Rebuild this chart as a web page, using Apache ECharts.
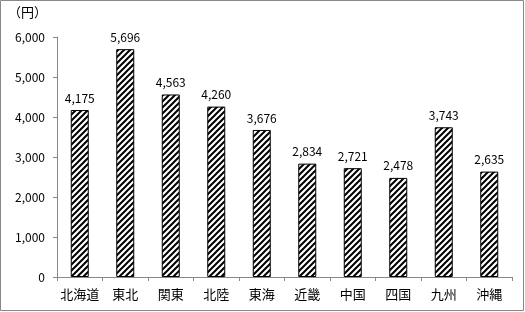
<!DOCTYPE html>
<html><head><meta charset="utf-8">
<script src="https://cdn.jsdelivr.net/npm/echarts@6/dist/echarts.min.js"></script>
<style>html,body{margin:0;padding:0;background:#fff}#c{width:525px;height:312px;}</style>
</head><body><div id="c"></div>
<script>
const categories = ['北海道','東北','関東','北陸','東海','近畿','中国','四国','九州','沖縄'];
const values = [4175,5696,4563,4260,3676,2834,2721,2478,3743,2635];
const unitLabel = '（円）';

function hatch(){
  const s = 6, c = document.createElement('canvas');
  c.width = s; c.height = s;
  const g = c.getContext('2d');
  g.fillStyle = '#fff'; g.fillRect(0,0,s,s);
  g.strokeStyle = '#000'; g.lineWidth = 2;
  g.beginPath();
  g.moveTo(-1, s+1); g.lineTo(s+1, -1);
  g.moveTo(-1, 1); g.lineTo(1, -1);
  g.moveTo(s-1, s+1); g.lineTo(s+1, s-1);
  g.stroke();
  return c;
}
const font = '"Noto Sans CJK JP", sans-serif';
const chart = echarts.init(document.getElementById('c'), null, {renderer:'canvas'});
chart.setOption({
  animation:false,
  backgroundColor:'#fff',
  graphic:[{type:'rect',shape:{x:0.5,y:0.5,width:523,height:310},style:{fill:'none',stroke:'#888',lineWidth:1}},
    {type:'text',left:8,top:6,style:{text:unitLabel,font:'13px '+font,fill:'#000'}}],
  grid:{left:57,right:13,top:37,bottom:35},
  xAxis:{type:'category',data:categories,
    axisLine:{lineStyle:{color:'#888'}},
    axisTick:{show:true,length:4,lineStyle:{color:'#888'}},
    axisLabel:{color:'#000',fontFamily:font,fontSize:13,margin:11,interval:0}},
  yAxis:{type:'value',min:0,max:6000,interval:1000,
    axisLine:{show:true,lineStyle:{color:'#888'}},
    axisTick:{show:true,length:4,lineStyle:{color:'#888'}},
    splitLine:{show:false},
    axisLabel:{color:'#000',fontFamily:font,fontSize:12,margin:12,
      formatter:v=>v.toLocaleString('en-US')}},
  series:[{type:'bar',data:values,barWidth:18,
    itemStyle:{color:{image:hatch(),repeat:'repeat'},borderColor:'#000',borderWidth:1},
    label:{show:true,position:'top',distance:6,color:'#000',fontFamily:font,fontSize:12,
      formatter:p=>p.value.toLocaleString('en-US')}}]
});
</script></body></html>
